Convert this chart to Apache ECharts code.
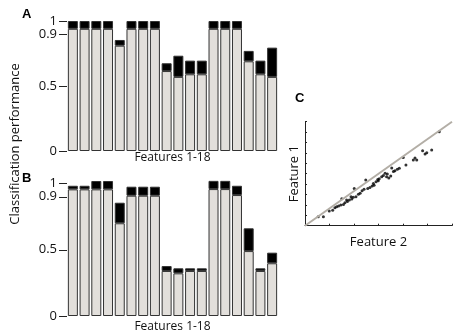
<!DOCTYPE html>
<html>
<head>
<meta charset="utf-8">
<script src="https://cdn.jsdelivr.net/npm/echarts@6/dist/echarts.min.js"></script>
<style>
  html, body { margin: 0; padding: 0; background: #fff; }
  #chart { width: 454px; height: 336px; }
</style>
</head>
<body>
<div id="chart"></div>
<script>
// features 1-18
const features = ['1','2','3','4','5','6','7','8','9','10','11','12','13','14','15','16','17','18'];
const yTicks = [0, 0.5, 0.9, 1];

// panel A: gray part and top of black part
const aGray = [0.94, 0.94, 0.94, 0.94, 0.81, 0.94, 0.94, 0.94, 0.615, 0.57, 0.59, 0.59, 0.94, 0.94, 0.94, 0.69, 0.59, 0.57];
const aTop  = [1.0, 1.0, 1.0, 1.0, 0.854, 1.0, 1.0, 1.0, 0.675, 0.733, 0.695, 0.695, 1.0, 1.0, 1.0, 0.77, 0.695, 0.795];

// panel B
const bGray = [0.956, 0.956, 0.956, 0.956, 0.70, 0.908, 0.908, 0.908, 0.34, 0.322, 0.34, 0.34, 0.958, 0.958, 0.913, 0.49, 0.34, 0.398];
const bTop  = [0.983, 0.983, 1.019, 1.019, 0.855, 0.976, 0.976, 0.976, 0.377, 0.36, 0.36, 0.36, 1.02, 1.02, 0.983, 0.662, 0.36, 0.478];

// panel C: feature 2 (x) vs feature 1 (y)
const cX = [0.54, 0.75, 0.99, 1.13, 1.29, 1.37, 1.46, 1.50, 1.57, 1.63, 1.73, 1.81, 1.91, 1.97, 2.01, 2.08, 2.18, 2.25, 2.33, 2.41,
            2.48, 2.56, 2.65, 2.74, 2.82, 2.90, 2.97, 3.03, 3.13, 3.20, 3.27, 3.33, 3.42, 3.50, 3.54, 3.61, 3.67, 3.77, 3.85, 4.01,
            4.12, 4.42, 4.49, 4.56, 4.80, 4.90, 4.97, 5.17, 5.48, 1.22, 1.70, 1.88, 2.79, 2.99, 3.36];
const cY = [0.52, 0.52, 0.85, 0.89, 1.10, 1.14, 1.19, 1.56, 1.23, 1.33, 1.39, 1.48, 1.54, 1.64, 2.14, 1.67, 1.81, 1.87, 2.02, 2.10,
            2.64, 2.15, 2.21, 2.29, 2.33, 2.54, 2.67, 2.71, 2.83, 2.89, 3.02, 2.83, 2.75, 2.87, 3.33, 3.12, 3.17, 3.25, 3.31, 3.94,
            3.50, 3.79, 3.90, 3.79, 4.33, 4.14, 4.21, 4.37, 5.42, 1.04, 1.48, 1.67, 2.44, 2.60, 2.98];
const diag = [[0, 0], [6, 6]];

const font = '"Open Sans", sans-serif';
const chart = echarts.init(document.getElementById('chart'));

function barY(gi) {
  return {
    type: 'value', gridIndex: gi, min: 0, max: 1.05,
    axisLine: { show: false },
    splitLine: { show: false },
    axisTick: { show: true, length: 8, customValues: yTicks, lineStyle: { color: '#222', width: 1 } },
    axisLabel: { customValues: yTicks, margin: 10, fontSize: 13, color: '#111', fontFamily: font }
  };
}

function barX(gi, gap) {
  return {
    type: 'category', gridIndex: gi, data: features,
    axisLine: { show: false }, axisTick: { show: false }, axisLabel: { show: false },
    name: 'Features 1-18', nameLocation: 'middle', nameGap: gap,
    nameTextStyle: { fontSize: 12, color: '#111', fontFamily: font }
  };
}

function barSeries(gi, gray, top) {
  const extra = top.map((t, i) => +(t - gray[i]).toFixed(3));
  return [
    {
      type: 'bar', xAxisIndex: gi, yAxisIndex: gi, stack: 's' + gi, data: gray,
      barWidth: 10, itemStyle: { color: '#e2dfdb', borderColor: '#333', borderWidth: 1 }
    },
    {
      type: 'bar', xAxisIndex: gi, yAxisIndex: gi, stack: 's' + gi, data: extra,
      barWidth: 10, itemStyle: { color: '#000', borderColor: '#333', borderWidth: 1 }
    }
  ];
}

const option = {
  animation: false,
  grid: [
    { left: 67, top: 14.5, width: 211, height: 136.5 },
    { left: 67, top: 176.9, width: 211, height: 139.1 },
    { left: 305, top: 121.7, width: 147, height: 104 }
  ],
  xAxis: [
    barX(0, 1),
    barX(1, 5),
    {
      type: 'value', gridIndex: 2, min: 0, max: 6, interval: 1,
      axisLine: { lineStyle: { color: '#222', width: 1 } },
      axisTick: { inside: true, length: 2, lineStyle: { color: '#222' } },
      axisLabel: { show: false }, splitLine: { show: false },
      name: 'Feature 2', nameLocation: 'middle', nameGap: 10,
      nameTextStyle: { fontSize: 13, color: '#111', fontFamily: font }
    }
  ],
  yAxis: [
    barY(0),
    barY(1),
    {
      type: 'value', gridIndex: 2, min: 0, max: 6, interval: 0.6,
      axisLine: { lineStyle: { color: '#222', width: 1 } },
      axisTick: { inside: true, length: 2, lineStyle: { color: '#222' } },
      axisLabel: { show: false }, splitLine: { show: false },
      name: 'Feature 1', nameLocation: 'middle', nameGap: 4,
      nameTextStyle: { fontSize: 13, color: '#111', fontFamily: font }
    }
  ],
  series: [
    ...barSeries(0, aGray, aTop),
    ...barSeries(1, bGray, bTop),
    {
      type: 'line', xAxisIndex: 2, yAxisIndex: 2, data: diag,
      showSymbol: false, lineStyle: { color: '#b3aea6', width: 2 }
    },
    {
      type: 'scatter', xAxisIndex: 2, yAxisIndex: 2,
      data: cX.map((x, i) => [x, cY[i]]),
      symbolSize: 3, itemStyle: { color: '#000' }
    }
  ],
  graphic: [
    { type: 'text', x: 15, y: 144, rotation: Math.PI / 2,
      style: { text: 'Classification performance', font: '13px ' + font, fill: '#111', align: 'center', verticalAlign: 'middle' } },
    { type: 'text', x: 22, y: 8, style: { text: 'A', font: 'bold 13px "Liberation Sans", sans-serif', fill: '#000' } },
    { type: 'text', x: 22, y: 172, style: { text: 'B', font: 'bold 13px "Liberation Sans", sans-serif', fill: '#000' } },
    { type: 'text', x: 295, y: 92, style: { text: 'C', font: 'bold 13px "Liberation Sans", sans-serif', fill: '#000' } }
  ]
};

chart.setOption(option);
</script>
</body>
</html>
